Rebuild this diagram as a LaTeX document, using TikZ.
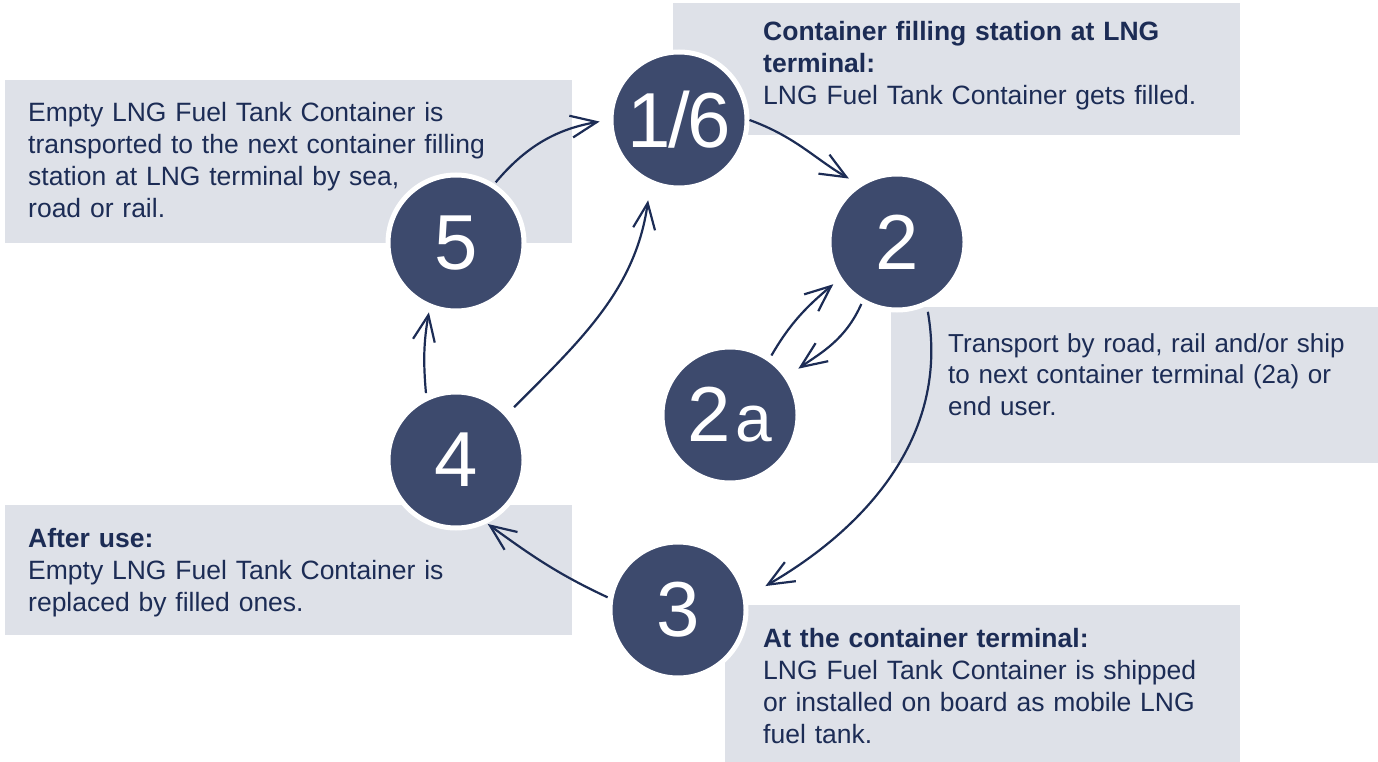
\documentclass[tikz,border=0pt]{standalone}
\usepackage{fontspec}
\setmainfont{Liberation Sans}
\usetikzlibrary{arrows.meta}
\definecolor{stagefill}{HTML}{3D4A6D}
\definecolor{ink}{HTML}{1C2C55}
\definecolor{panelfill}{HTML}{DEE1E8}

\begin{document}
\begin{tikzpicture}[x=1pt,y=1pt,>={Straight Barb[length=26pt,width=22pt]}]
    \def\r{136pt}
    \tikzset{
      panel/.style={fill=panelfill,anchor=north west,inner sep=0pt},
      note/.style={anchor=base west,inner sep=0pt,text=ink,align=left,text width=520pt,
        font=\fontsize{26.5}{32}\selectfont},
      stage/.style={circle,fill=stagefill,draw=white,line width=5pt,minimum size=\r,
        inner sep=0pt,text=white,font=\fontsize{78}{78}\selectfont},
      flow/.style={->,ink,line width=2.2pt}
    }
    \useasboundingbox (0,0) rectangle (1378,-762);

    % grey panels
    \node (box16) [panel,minimum width=567pt,minimum height=132pt] at (673,-3) {};
    \node (box5) [panel,minimum width=567pt,minimum height=163pt] at (5,-80) {};
    \node (box2) [panel,minimum width=487pt,minimum height=156pt] at (891,-307) {};
    \node (box4) [panel,minimum width=567pt,minimum height=130pt] at (5,-505) {};
    \node (box3) [panel,minimum width=515pt,minimum height=157pt] at (725,-605) {};

    \node (note16) [note] at (763,-41)
      {\textbf{Container filling station at LNG}\\\textbf{terminal:}\\LNG Fuel Tank Container gets filled.};
    \node (note5) [note] at (28,-122)
      {Empty LNG Fuel Tank Container is\\transported to the next container filling\\station at LNG terminal by sea,\\road or rail.};
    \node (note2) [note,font=\fontsize{26}{31.5}\selectfont] at (948,-352)
      {Transport by road, rail and/or ship\\to next container terminal (2a) or\\end user.};
    \node (note4) [note] at (28,-547)
      {\textbf{After use:}\\Empty LNG Fuel Tank Container is\\replaced by filled ones.};
    \node (note3) [note] at (763,-647)
      {\textbf{At the container terminal:}\\LNG Fuel Tank Container is shipped\\or installed on board as mobile LNG\\fuel tank.};

    % stages
    \node (s16) [stage] at (679,-120) {1\kern-2.5pt/\kern-2.5pt6};
    \node (s2) [stage] at (897,-242) {2};
    \node (s2a) [stage] at (730,-415) {2\kern4pt{\fontsize{66}{66}\selectfont a}};
    \node (s3) [stage] at (678,-610) {3};
    \node (s4) [stage] at (456,-460) {4};
    \node (s5) [stage] at (456,-243) {5};

    \draw[flow,shorten <=2pt,shorten >=9pt] (s5.57) to[out=50,in=190] (s16.180);
    \draw[flow,shorten >=10pt] (s16.0) to[out=-20,in=150] (s2.124);
    \draw[flow,shorten <=1pt,shorten >=12pt] (s2.-120) to[out=-114,in=35] (s2a.34);
    \draw[flow,shorten <=2pt,shorten >=6pt] (s2a.55) to[out=60,in=220] (s2.-147);
    \draw[flow,shorten <=6pt,shorten >=21pt] (s2.-65) to[out=-80,in=30] (s3.11);
    \draw[flow,shorten <=1pt,shorten >=1pt] (s3.170) to[out=155,in=-36] (s4.-64);
    \draw[flow,shorten <=3pt,shorten >=4pt] (s4.115) to[out=95,in=-100] (s5.-112);
    \draw[flow,shorten <=8pt,shorten >=16pt] (s4.42) to[out=45,in=-98] (s16.-114);
\end{tikzpicture}
\end{document}
